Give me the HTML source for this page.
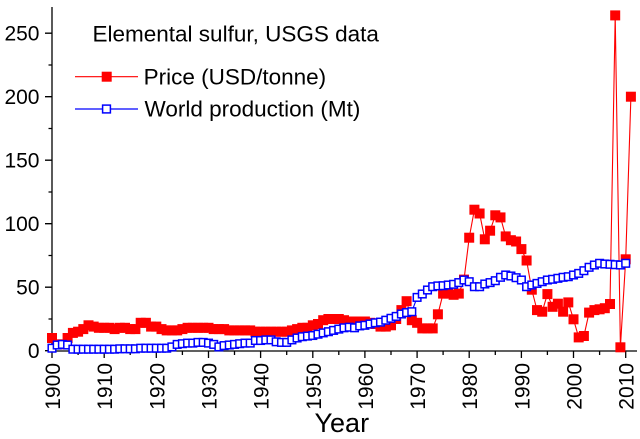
<!DOCTYPE html>
<html>
<head>
<meta charset="utf-8">
<style>
html,body{margin:0;padding:0;background:#fff;}
svg{display:block;font-family:"Liberation Sans",Arial,sans-serif;}
</style>
</head>
<body>
<svg width="640" height="439" viewBox="0 0 640 439" xmlns="http://www.w3.org/2000/svg">
<defs>
<marker id="mr" markerWidth="10" markerHeight="10" refX="5" refY="5" markerUnits="userSpaceOnUse" overflow="visible">
<rect x="0" y="0" width="10" height="10" fill="#ff0000"/>
</marker>
<marker id="mb" markerWidth="10" markerHeight="10" refX="5" refY="5" markerUnits="userSpaceOnUse" overflow="visible">
<rect x="1.2" y="1.2" width="7.6" height="7.6" fill="#fff" stroke="#0000ff" stroke-width="1.5"/>
</marker>
</defs>
<rect width="640" height="439" fill="#fff"/>
<g stroke="#000" stroke-width="1.3" fill="none">
<line x1="52" y1="7" x2="52" y2="351.6"/>
<line x1="51.4" y1="351" x2="637" y2="351"/>
<path d="M45 350.7H52M45 287.2H52M45 223.7H52M45 160.2H52M45 96.7H52M45 33.2H52"/>
<path d="M48.5 319H52M48.5 255.5H52M48.5 192H52M48.5 128.5H52M48.5 65H52"/>
<path d="M52 351V358M104.2 351V358M156.3 351V358M208.5 351V358M260.6 351V358M312.8 351V358M364.9 351V358M417.1 351V358M469.2 351V358M521.4 351V358M573.5 351V358M625.7 351V358"/>
<path d="M78.1 351V355M130.2 351V355M182.4 351V355M234.5 351V355M286.7 351V355M338.8 351V355M391 351V355M443.1 351V355M495.3 351V355M547.4 351V355M599.6 351V355"/>
</g>
<g font-size="21" text-anchor="end" fill="#000">
<text x="39.5" y="358.2">0</text>
<text x="39.5" y="294.7">50</text>
<text x="39.5" y="231.2">100</text>
<text x="39.5" y="167.7">150</text>
<text x="39.5" y="104.2">200</text>
<text x="39.5" y="40.7">250</text>
<text transform="translate(60,363) rotate(-90)">1900</text>
<text transform="translate(112.2,363) rotate(-90)">1910</text>
<text transform="translate(164.3,363) rotate(-90)">1920</text>
<text transform="translate(216.5,363) rotate(-90)">1930</text>
<text transform="translate(268.6,363) rotate(-90)">1940</text>
<text transform="translate(320.8,363) rotate(-90)">1950</text>
<text transform="translate(372.9,363) rotate(-90)">1960</text>
<text transform="translate(425.1,363) rotate(-90)">1970</text>
<text transform="translate(477.2,363) rotate(-90)">1980</text>
<text transform="translate(529.4,363) rotate(-90)">1990</text>
<text transform="translate(581.5,363) rotate(-90)">2000</text>
<text transform="translate(633.7,363) rotate(-90)">2010</text>
</g>
<text x="314.5" y="432" font-size="27" fill="#000">Year</text>

<polyline fill="none" stroke="#ff0000" stroke-width="1.1" marker-start="url(#mr)" marker-mid="url(#mr)" marker-end="url(#mr)" points="52.0,338.0 57.2,344.4 62.4,344.4 67.6,338.0 72.9,332.9 78.1,331.7 83.3,329.1 88.5,325.3 93.7,326.6 98.9,327.8 104.2,327.8 109.4,327.8 114.6,329.1 119.8,327.8 125.0,327.8 130.2,329.1 135.4,329.1 140.7,322.8 145.9,322.8 151.1,326.6 156.3,326.6 161.5,329.1 166.7,330.4 171.9,330.4 177.2,330.4 182.4,329.1 187.6,327.8 192.8,327.8 198.0,327.8 203.2,327.8 208.5,327.8 213.7,329.1 218.9,329.1 224.1,329.1 229.3,330.4 234.5,330.4 239.7,330.4 245.0,330.4 250.2,330.4 255.4,331.7 260.6,331.7 265.8,331.7 271.0,331.7 276.2,331.7 281.5,331.7 286.7,331.7 291.9,330.4 297.1,329.1 302.3,327.8 307.5,327.8 312.8,325.3 318.0,324.0 323.2,320.2 328.4,319.0 333.6,319.0 338.8,319.0 344.0,320.2 349.3,321.5 354.5,321.5 359.7,321.5 364.9,321.5 370.1,322.8 375.3,324.0 380.5,326.6 385.8,326.6 391.0,325.3 396.2,319.0 401.4,310.1 406.6,301.2 411.8,320.2 417.1,322.8 422.3,328.4 427.5,328.4 432.7,328.4 437.9,314.3 443.1,293.6 448.3,293.6 453.6,294.8 458.8,293.6 464.0,279.6 469.2,237.7 474.4,209.7 479.6,213.5 484.8,239.3 490.1,230.7 495.3,215.3 500.5,217.4 505.7,236.4 510.9,240.2 516.1,241.5 521.4,249.1 526.6,260.5 531.8,289.7 537.0,310.1 542.2,311.7 547.4,294.1 552.6,306.8 557.9,303.7 563.1,311.7 568.3,302.4 573.5,319.3 578.7,337.4 583.9,336.0 589.1,312.6 594.4,310.1 599.6,309.3 604.8,308.2 610.0,304.0 615.2,15.4 620.4,347.3 625.7,259.3 630.9,96.7"/>

<polyline fill="none" stroke="#0000ff" stroke-width="1.1" marker-start="url(#mb)" marker-mid="url(#mb)" marker-end="url(#mb)" points="52.0,348.2 57.2,345.0 62.4,344.4 67.6,345.0 72.9,349.2 78.1,349.2 83.3,349.2 88.5,349.2 93.7,349.2 98.9,349.2 104.2,349.2 109.4,349.2 114.6,349.2 119.8,348.8 125.0,348.8 130.2,348.8 135.4,348.8 140.7,348.2 145.9,348.2 151.1,348.2 156.3,348.2 161.5,348.2 166.7,348.2 171.9,346.9 177.2,344.4 182.4,343.7 187.6,343.1 192.8,343.1 198.0,342.4 203.2,342.4 208.5,343.1 213.7,344.4 218.9,346.9 224.1,345.6 229.3,345.0 234.5,344.4 239.7,343.7 245.0,343.1 250.2,343.1 255.4,340.5 260.6,340.5 265.8,339.9 271.0,339.9 276.2,341.8 281.5,342.4 286.7,342.4 291.9,339.9 297.1,338.0 302.3,336.7 307.5,336.1 312.8,335.5 318.0,334.2 323.2,332.9 328.4,331.7 333.6,330.4 338.8,329.1 344.0,327.8 349.3,327.2 354.5,327.8 359.7,325.9 364.9,325.3 370.1,324.0 375.3,322.8 380.5,322.1 385.8,320.2 391.0,318.3 396.2,316.4 401.4,314.0 406.6,312.6 411.8,311.7 417.1,297.4 422.3,294.0 427.5,290.0 432.7,286.7 437.9,285.9 443.1,285.7 448.3,285.0 453.6,284.3 458.8,282.6 464.0,280.0 469.2,281.7 474.4,286.7 479.6,286.7 484.8,284.0 490.1,282.6 495.3,280.7 500.5,277.3 505.7,275.0 510.9,276.0 516.1,277.7 521.4,280.0 526.6,286.7 531.8,285.0 537.0,283.4 542.2,281.7 547.4,280.0 552.6,279.3 557.9,278.3 563.1,277.3 568.3,276.7 573.5,275.0 578.7,273.4 583.9,270.7 589.1,267.3 594.4,265.0 599.6,263.3 604.8,264.0 610.0,264.3 615.2,264.7 620.4,265.0 625.7,263.3"/>

<text x="92.5" y="41.7" font-size="22.5" fill="#000">Elemental sulfur, USGS data</text>
<line x1="75" y1="76.7" x2="138" y2="76.7" stroke="#ff0000" stroke-width="1.2"/>
<rect x="101.7" y="71.7" width="10" height="10" fill="#ff0000"/>
<text x="143.6" y="84.5" font-size="22.5" fill="#000">Price (USD/tonne)</text>
<line x1="75" y1="109" x2="138" y2="109" stroke="#0000ff" stroke-width="1.2"/>
<rect x="102.6" y="105.1" width="7.8" height="7.8" fill="#fff" stroke="#0000ff" stroke-width="1.5"/>
<text x="144.5" y="116.3" font-size="22.5" fill="#000">World production (Mt)</text>
</svg>
</body>
</html>
